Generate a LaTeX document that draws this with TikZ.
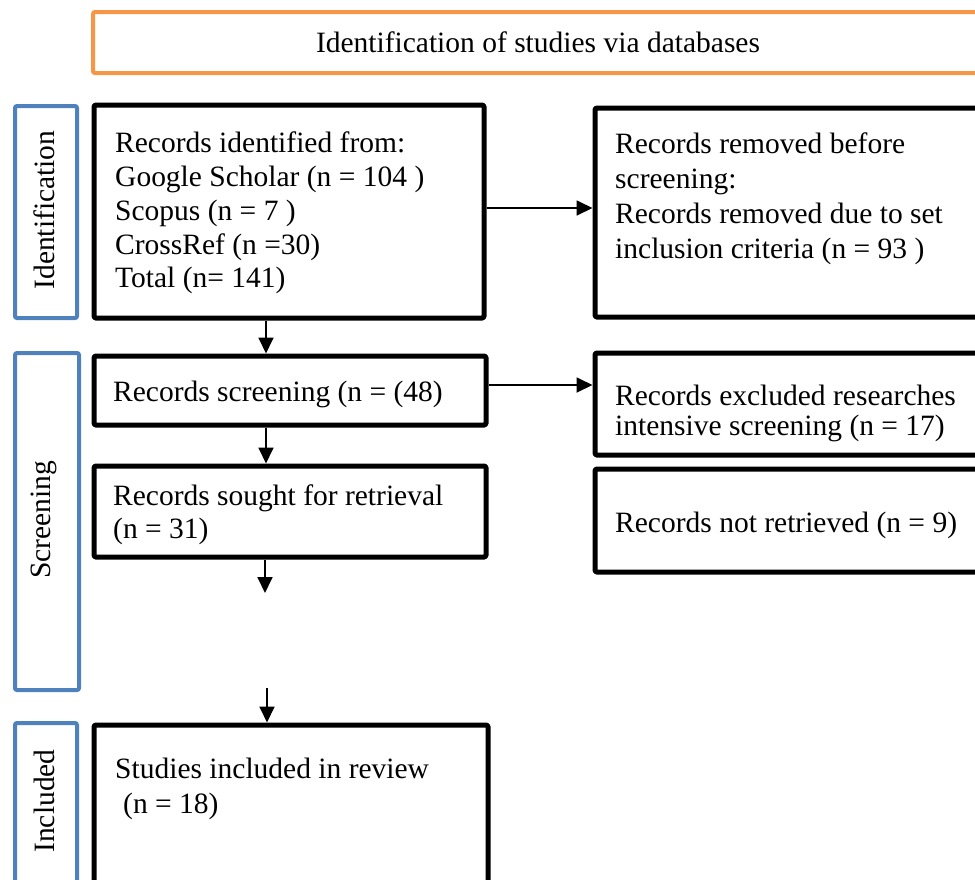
\documentclass[tikz,border=0pt]{standalone}
\usepackage{fontspec}
\setmainfont{Liberation Serif}
\usetikzlibrary{arrows.meta,calc}
\definecolor{prOrange}{RGB}{247,150,70}
\definecolor{prBlue}{RGB}{79,129,189}
\tikzset{
  blackbox/.style={draw=black, line width=5pt, line join=round, rounded corners=1.5pt, inner sep=0pt, anchor=north west},
  bluebox/.style={draw=prBlue, line width=4pt, rounded corners=2pt, inner sep=0pt, anchor=north west},
  orangebox/.style={draw=prOrange, line width=4pt, rounded corners=2pt, inner sep=0pt, anchor=north west},
  txt/.style={inner sep=0pt, anchor=north west, align=left},
  sidetxt/.style={inner sep=0pt, rotate=90, font={\fontsize{29.5}{34}\selectfont}},
  arr/.style={draw=black, line width=1.8pt, -{Triangle[length=16pt,width=15pt]}},
}
\begin{document}
\begin{tikzpicture}[x=1pt,y=-1pt]
\clip (0,0) rectangle (975,879);
\fill[white] (0,0) rectangle (975,879);
% title
\node[orangebox, minimum width=900pt, minimum height=61pt] (title) at (91,10) {};
\node[inner sep=0pt, anchor=base, font={\fontsize{29.5}{34}\selectfont}] (titletxt) at (538,52) {Identification of studies via databases};
% side labels
\node[bluebox, minimum width=62pt, minimum height=212pt] (sid) at (13,104) {};
\node[sidetxt] (sidt) at (44,210) {Identification};
\node[bluebox, minimum width=64pt, minimum height=337pt] (sscr) at (13,351) {};
\node[sidetxt] (sscrt) at (44,520) {Screening};
\node[bluebox, minimum width=62pt, minimum height=180pt] (sinc) at (13,721) {};
\node[sidetxt] (sinct) at (44,801) {Included};
% main boxes
\node[blackbox, minimum width=390pt, minimum height=213pt] (b1) at (91.5,102.5) {};
\node[txt, font={\fontsize{29.5}{33.75}\selectfont}] (t1) at (115,132) {Records identified from:\\Google Scholar (n = 104 )\\Scopus (n = 7 )\\CrossRef (n =30)\\Total (n= 141)};
\node[blackbox, minimum width=400pt, minimum height=209pt] (rem) at (592.5,105.5) {};
\node[txt, font={\fontsize{29.5}{35}\selectfont}] (trem) at (615,133) {Records removed before\\screening:\\Records removed due to set\\inclusion criteria (n = 93 )};
\node[blackbox, minimum width=392pt, minimum height=69pt] (scr) at (91.5,353.5) {};
\node[txt, font={\fontsize{29.5}{34}\selectfont}] (tscr) at (113,381) {Records screening (n = (48)};
\node[blackbox, minimum width=400pt, minimum height=102pt] (exc) at (592.5,350.5) {};
\node[txt, font={\fontsize{29.5}{30}\selectfont}] (texc) at (615,385) {Records excluded researches\\intensive screening (n = 17)};
\node[blackbox, minimum width=392pt, minimum height=91pt] (sou) at (91.5,463.5) {};
\node[txt, font={\fontsize{29.5}{33}\selectfont}] (tsou) at (113,485) {Records sought for retrieval\\(n = 31)};
\node[blackbox, minimum width=400pt, minimum height=103pt] (nr) at (592.5,466.5) {};
\node[txt, font={\fontsize{29.5}{34}\selectfont}] (tnr) at (615,512) {Records not retrieved (n = 9)};
\node[blackbox, minimum width=394pt, minimum height=180pt] (inc) at (91.5,722.5) {};
\node[txt, font={\fontsize{29.5}{35}\selectfont}] (tinc) at (115,758) {Studies included in review\\\hspace*{8pt}(n = 18)};
% connector helpers
\coordinate (xa) at (266,0);
\coordinate (ya) at (0,208);
\coordinate (yb) at (0,385);
\coordinate (soudown) at (265,593);
\coordinate (incstart) at (267,688);
% connectors
\draw[arr] (b1.east |- ya) -- (rem.west |- ya);
\draw[arr] (b1.south -| xa) -- (scr.north -| xa);
\draw[arr] (scr.east |- yb) -- (exc.west |- yb);
\draw[arr] (scr.south -| xa) -- (sou.north -| xa);
\draw[arr] (sou.south -| soudown) -- (soudown);
\draw[arr] (incstart) -- (inc.north -| incstart);
\end{tikzpicture}
\end{document}
